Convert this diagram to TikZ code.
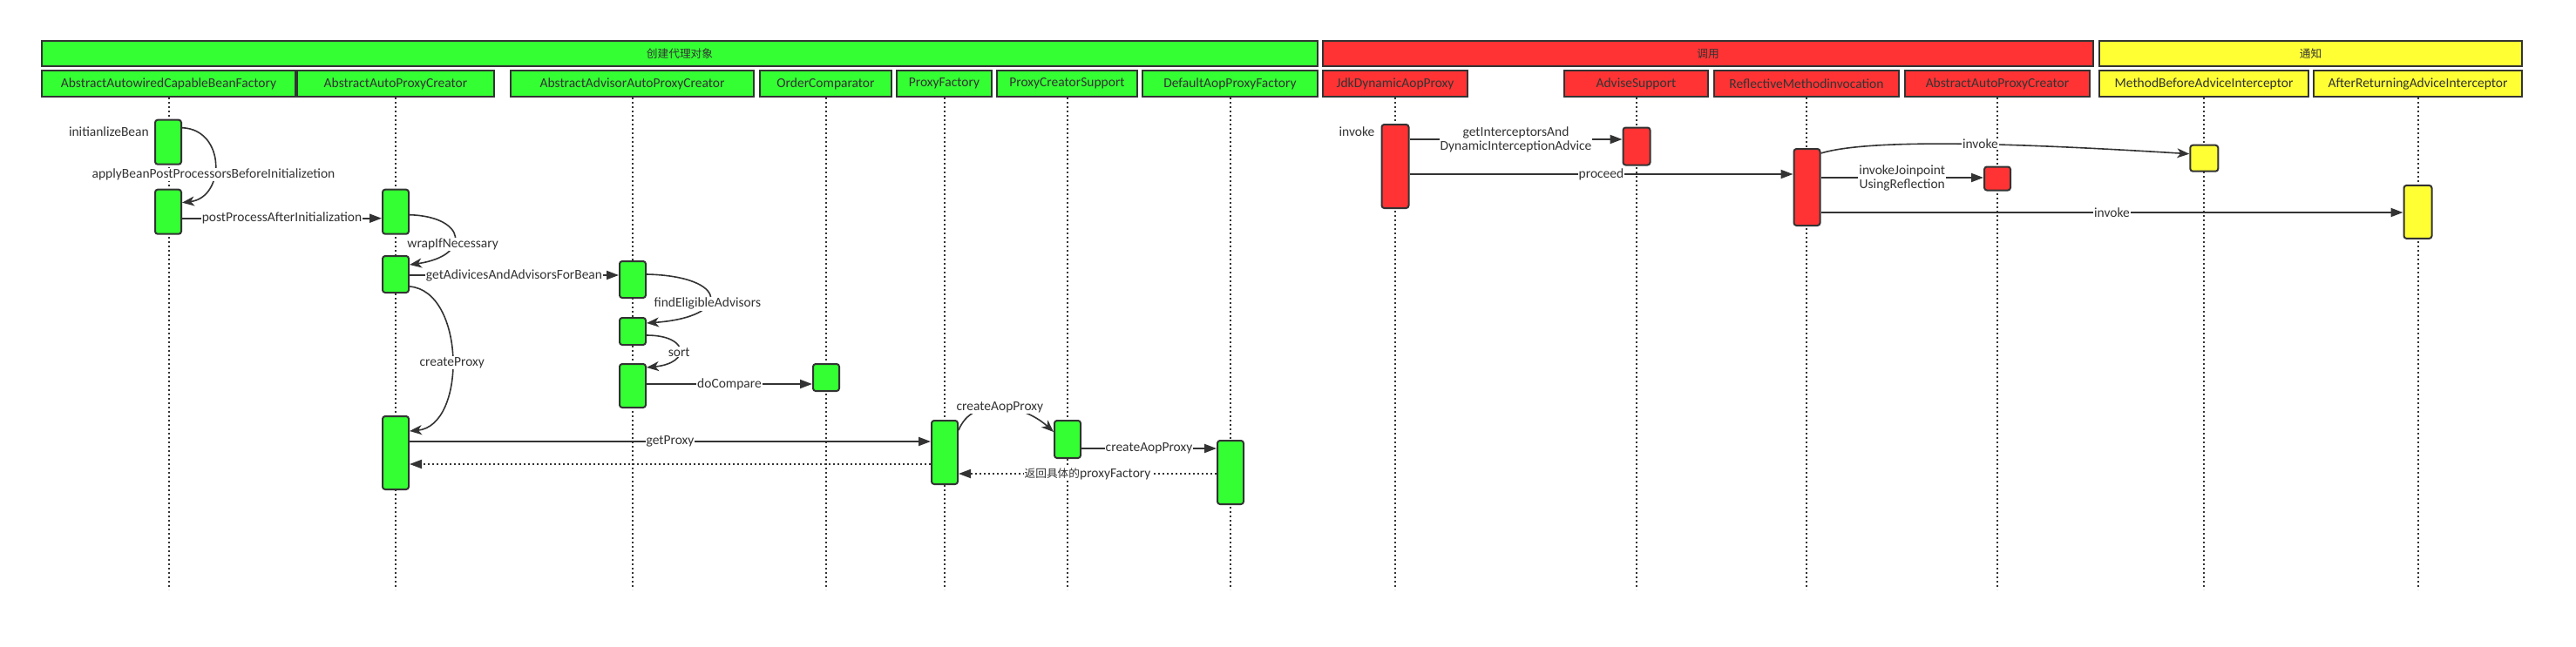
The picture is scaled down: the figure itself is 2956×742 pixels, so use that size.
\documentclass[tikz,border=0pt]{standalone}
\usepackage{fontspec}
\setmainfont{Carlito}
\newfontfamily\cjk[Scale=0.82]{Noto Sans CJK SC}
\usetikzlibrary{arrows.meta,calc}
\definecolor{gr}{HTML}{33FF33}
\definecolor{rd}{HTML}{FF3333}
\definecolor{yl}{HTML}{FFFF33}
\definecolor{ink}{HTML}{333333}
\begin{document}
\begin{tikzpicture}[x=1pt,y=-1pt,
  font=\fontsize{15.5}{18}\selectfont, text=ink,
  bar/.style={draw=ink,line width=2pt,minimum height=29pt,inner sep=0pt},
  head/.style={draw=ink,line width=2pt,minimum height=30pt,inner sep=0pt},
  act/.style={draw=ink,line width=2pt,rounded corners=3pt,minimum width=30pt,inner sep=0pt},
  life/.style={draw=ink,line width=2pt,dash pattern=on 2pt off 3pt},
  msg/.style={draw=ink,line width=2pt,-{Triangle[length=14pt,width=10pt]}},
  cmsg/.style={draw=ink,line width=1.6pt,-{Stealth[length=14pt,width=11pt,inset=4pt]}},
  ret/.style={draw=ink,line width=2pt,dash pattern=on 2pt off 3pt,-{Triangle[length=14pt,width=10pt]}},
  lbl/.style={fill=white,inner sep=1pt,text=ink},
  two/.style={lbl,align=center,font=\fontsize{15.5}{16}\selectfont}
]
\useasboundingbox[fill=white] (0,0) rectangle (2956,742);

% group bars
\node[bar,fill=gr,minimum width=1464pt] (g1) at (780,61.5) {\cjk 创建代理对象};
\node[bar,fill=rd,minimum width=884pt] (g2) at (1960,61.5) {\cjk 调用};
\node[bar,fill=yl,minimum width=485pt] (g3) at (2651.5,61.5) {\cjk 通知};

% headers
\node[head,fill=gr,minimum width=291pt] (h1) at (193.5,96) {AbstractAutowiredCapableBeanFactory};
\node[head,fill=gr,minimum width=226pt] (h2) at (454,96) {AbstractAutoProxyCreator};
\node[head,fill=gr,minimum width=279pt] (h3) at (725.5,96) {AbstractAdvisorAutoProxyCreator};
\node[head,fill=gr,minimum width=151pt] (h4) at (947.5,96) {OrderComparator};
\node[head,fill=gr,minimum width=109pt] (h5) at (1083.5,96) {ProxyFactory};
\node[head,fill=gr,minimum width=161pt] (h6) at (1224.5,96) {ProxyCreatorSupport};
\node[head,fill=gr,minimum width=201pt] (h7) at (1411.5,96) {DefaultAopProxyFactory};
\node[head,fill=rd,minimum width=166pt] (r1) at (1601,96) {JdkDynamicAopProxy};
\node[head,fill=rd,minimum width=165pt] (r2) at (1877.5,96) {AdviseSupport};
\node[head,fill=rd,minimum width=212pt] (r3) at (2073,96) {ReflectiveMethodinvocation};
\node[head,fill=rd,minimum width=212pt] (r4) at (2292,96) {AbstractAutoProxyCreator};
\node[head,fill=yl,minimum width=240pt] (y1) at (2529,96) {MethodBeforeAdviceInterceptor};
\node[head,fill=yl,minimum width=239pt] (y2) at (2774.5,96) {AfterReturningAdviceInterceptor};

% lifelines
\coordinate (bot) at (0,677);
\foreach \h in {h1,h2,h3,h4,h5,h6,h7,r1,r2,r3,r4,y1,y2}
  \draw[life] (\h.south) -- (\h.south |- bot);

% activations (green)
\node[act,fill=gr,minimum height=51pt] (a1) at (193,163.2) {};
\node[act,fill=gr,minimum height=51pt] (a2) at (193,243.2) {};
\node[act,fill=gr,minimum height=51pt] (a3) at (454,243.2) {};
\node[act,fill=gr,minimum height=42pt] (a4) at (454,315) {};
\node[act,fill=gr,minimum height=42pt] (a5) at (726,321) {};
\node[act,fill=gr,minimum height=31pt] (a6) at (726,380.5) {};
\node[act,fill=gr,minimum height=50pt] (a7) at (726,443) {};
\node[act,fill=gr,minimum height=31pt] (a8) at (948,433.5) {};
\node[act,fill=gr,minimum height=84pt] (a9) at (454,520) {};
\node[act,fill=gr,minimum height=73pt] (a10) at (1084,519.5) {};
\node[act,fill=gr,minimum height=43pt] (a11) at (1225,504.5) {};
\node[act,fill=gr,minimum height=73pt] (a12) at (1412,542.5) {};
% activations (red / yellow)
\node[act,fill=rd,minimum width=31pt,minimum height=96pt] (b1) at (1601,191) {};
\node[act,fill=rd,minimum width=31pt,minimum height=43pt] (b2) at (1878,168) {};
\node[act,fill=rd,minimum width=30pt,minimum height=88pt] (b3) at (2073.5,215) {};
\node[act,fill=rd,minimum width=30pt,minimum height=27pt] (b4) at (2292,205) {};
\node[act,fill=yl,minimum width=32pt,minimum height=30pt] (c1) at (2529.3,181.7) {};
\node[act,fill=yl,minimum width=32pt,minimum height=61pt] (c2) at (2774.5,243.4) {};

% free labels
\node[anchor=east,inner sep=0pt] (t1) at ($(a1.north west)+(-6,14)$) {initianlizeBean};
\node[anchor=east,inner sep=0pt] (t2) at ($(b1.north west)+(-7,9)$) {invoke};

% self / curved calls
\draw[cmsg] ($(a1.north east)+(0,10)$) .. controls +(50,2) and +(50,-6) .. node[lbl,pos=0.6] {applyBeanPostProcessorsBeforeInitializetion} ($(a2.north east)+(0,16)$);
\draw[cmsg] ($(a3.north east)+(0,30)$) .. controls +(66,2) and +(71,-10) .. node[lbl,pos=0.6] {wrapIfNecessary} ($(a4.north east)+(0,11)$);
\draw[cmsg] ($(a5.north east)+(0,16)$) .. controls +(94,2) and +(99,-7) .. node[lbl,pos=0.6] {findEligibleAdvisors} ($(a6.north east)+(0,7)$);
\draw[cmsg] ($(a6.north east)+(0,21)$) .. controls +(49,0) and +(51,-5) .. node[lbl,pos=0.55] {sort} ($(a7.north east)+(0,5)$);
\draw[cmsg] ($(a4.north east)+(0,36)$) .. controls +(64,5) and +(66,-6) .. node[lbl,pos=0.52] {createProxy} ($(a9.north east)+(0,18)$);
\draw[cmsg] ($(a10.north east)+(0,12)$) .. controls +(16,-40) and +(-35,-32) .. node[lbl,pos=0.5] {createAopProxy} ($(a11.north west)+(0,14)$);
\draw[cmsg] ($(b3.north east)+(0,6)$) .. controls +(62,-19) and +(-163,-10) .. node[lbl,pos=0.52] {invoke} ($(c1.north west)+(0,11)$);

% straight calls
\draw[msg] ($(a2.north east)+(0,34)$) coordinate (m1) -- node[lbl] {postProcessAfterInitialization} (m1 -| a3.west);
\draw[msg] ($(a4.north east)+(0,23)$) coordinate (m2) -- node[lbl] {getAdivicesAndAdvisorsForBean} (m2 -| a5.west);
\draw[msg] ($(a7.north east)+(0,24)$) coordinate (m3) -- node[lbl] {doCompare} (m3 -| a8.west);
\draw[msg] ($(a9.north east)+(0,30)$) coordinate (m4) -- node[lbl] {getProxy} (m4 -| a10.west);
\draw[ret] ($(a10.north west)+(0,51)$) coordinate (m5) -- (m5 -| a9.east);
\draw[msg] ($(a11.north east)+(0,33)$) coordinate (m6) -- node[lbl] {createAopProxy} (m6 -| a12.west);
\draw[ret] ($(a12.north west)+(0,39)$) coordinate (m7) -- node[lbl] {{\cjk 返回具体的}proxyFactory} (m7 -| a10.east);
\draw[msg] ($(b1.north east)+(0,18)$) coordinate (m8) -- node[two] {getInterceptorsAnd\\DynamicInterceptionAdvice} (m8 -| b2.west);
\draw[msg] ($(b1.north east)+(0,58)$) coordinate (m9) -- node[lbl] {proceed} (m9 -| b3.west);
\draw[msg] ($(b3.north east)+(0,34)$) coordinate (m10) -- node[two] {invokeJoinpoint\\UsingReflection} (m10 -| b4.west);
\draw[msg] ($(b3.north east)+(0,74)$) coordinate (m11) -- node[lbl] {invoke} (m11 -| c2.west);
\end{tikzpicture}
\end{document}
